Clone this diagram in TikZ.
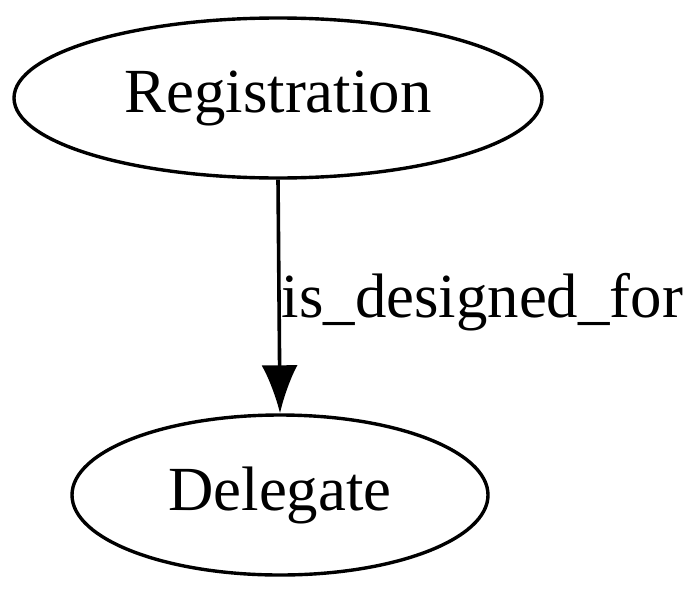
\documentclass[tikz,border=0pt]{standalone}
\usepackage{fontspec}
\setmainfont{Liberation Serif}
\usetikzlibrary{shapes.geometric,arrows.meta}
\tikzset{
  entity/.style={draw, ellipse, line width=3.4pt, inner sep=0pt, minimum height=160pt},
}
\begin{document}
\begin{tikzpicture}[x=1pt,y=-1pt,font=\fontsize{62.8}{75}\selectfont]
            \useasboundingbox (0,0) rectangle (700,597);
            \node[entity, minimum width=528pt] (reg) at (278,98) {Registration};   % top
            \node[entity, minimum width=416pt] (del) at (280,495) {Delegate};      % bottom
            \draw[line width=3.6pt, -{Latex[length=48pt,width=36pt]}] (reg.south) -- (del.north)
                node[midway, right, inner sep=0pt, xshift=1pt, yshift=-6pt] (lbl) {is\_designed\_for};
        \end{tikzpicture}
\end{document}
